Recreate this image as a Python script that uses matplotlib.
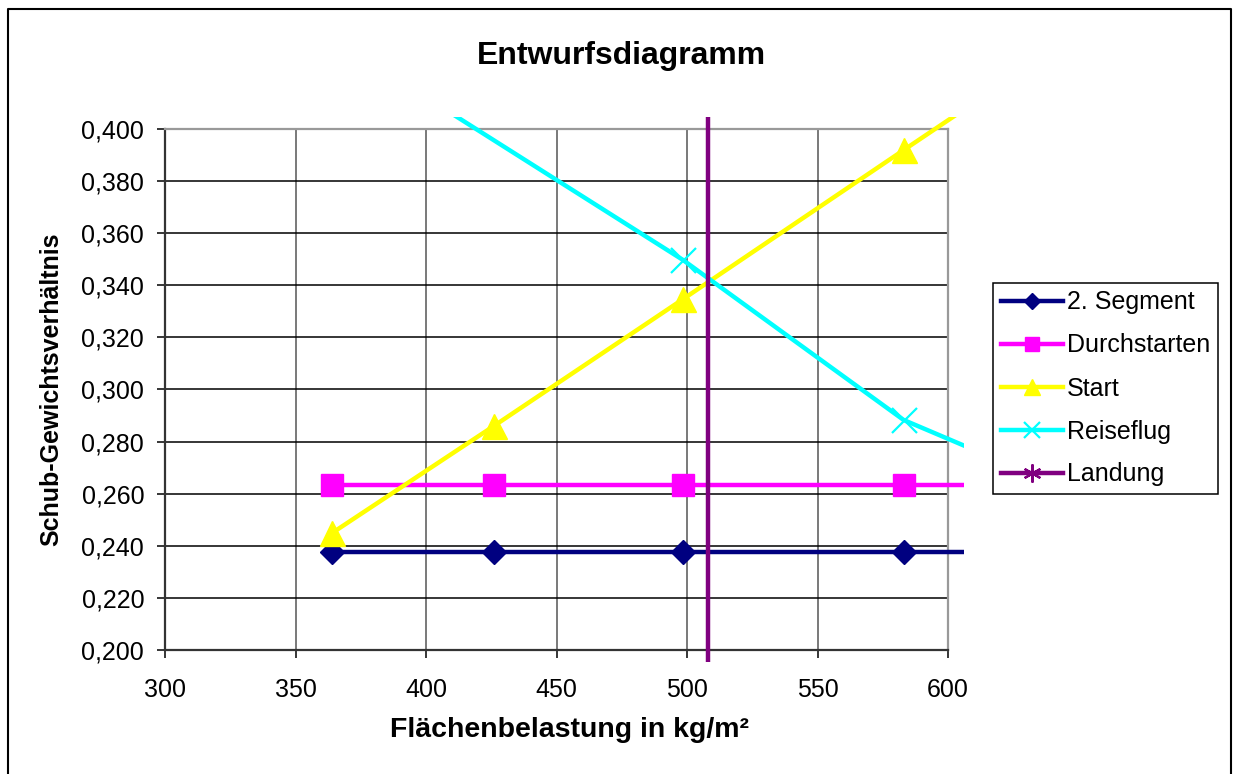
import matplotlib
matplotlib.use("Agg")
import matplotlib.pyplot as plt
from matplotlib.ticker import FuncFormatter, MultipleLocator
from matplotlib.transforms import Bbox, TransformedBbox
from matplotlib.lines import Line2D

plt.rcParams['font.family'] = ['Liberation Sans', 'DejaVu Sans']

# Daten
wl = [364, 426, 498.5, 583, 650]                   # Flächenbelastung kg/m²
segment2 = [0.2378, 0.2378, 0.2378, 0.2378, 0.2378]
durchstarten = [0.2633, 0.2633, 0.2633, 0.2633, 0.2633]
start = [0.2449, 0.2860, 0.3347, 0.3919, 0.4370]
reise_x = [364, 498.5, 583, 650]
reiseflug = [0.4350, 0.3497, 0.2883, 0.2598]
landung_x = [508, 508]
landung_y = [0.10, 0.50]

# name, x, y, farbe, marker, markergröße, markerkantenbreite, legenden-markergröße
series = [
    ("2. Segment", wl, segment2, "#000080", "D", 12, 1, 8),
    ("Durchstarten", wl, durchstarten, "#FF00FF", "s", 16, 1, 10),
    ("Start", wl, start, "#FFFF00", "^", 18, 1, 11),
    ("Reiseflug", reise_x, reiseflug, "#00FFFF", "x", 18, 1.6, 11),
    ("Landung", landung_x, landung_y, "#800080", (6, 2, 0), 14, 1.6, 13),
]

fig = plt.figure(figsize=(12.36, 7.74), dpi=100)
ax = fig.add_axes([165 / 1236, 1 - 650 / 774, (948 - 165) / 1236, (650 - 129) / 774])

ax.set_xlim(300, 600)
ax.set_ylim(0.2, 0.4)

# Excel schneidet etwas außerhalb der Zeichenfläche ab
clip = TransformedBbox(Bbox([[290, 0.1955], [606, 0.4045]]), ax.transData)

handles = []
for name, xs, ys, col, mk, ms, mew, lms in series:
    ln, = ax.plot(xs, ys, color=col, lw=3.2, marker=mk, ms=ms, mew=mew,
                  mec=col, mfc=col, zorder=3)
    ln.set_clip_box(clip)
    handles.append(Line2D([], [], color=col, lw=3.2, marker=mk, ms=lms,
                          mew=mew, mec=col, mfc=col))

# Gitter
ax.xaxis.set_major_locator(MultipleLocator(50))
ax.yaxis.set_major_locator(MultipleLocator(0.02))
ax.grid(True, axis='y', color='black', lw=1.1)
ax.grid(True, axis='x', color='#555555', lw=1.1)
ax.set_axisbelow(True)

ax.yaxis.set_major_formatter(FuncFormatter(lambda v, p: f"{v:.3f}".replace('.', ',')))
ax.tick_params(axis='both', direction='out', length=6, width=1.1, labelsize=18,
               color='black')
ax.tick_params(axis='y', pad=9)
ax.tick_params(axis='x', pad=14)

for s in ['top', 'right']:
    ax.spines[s].set_color('#999999')
    ax.spines[s].set_linewidth(1.6)
for s in ['left', 'bottom']:
    ax.spines[s].set_color('#333333')
    ax.spines[s].set_linewidth(1.6)

ax.set_xlabel("Flächenbelastung in kg/m²", fontsize=20.5, fontweight='bold', va='center')
ax.xaxis.set_label_coords(0.517, -0.154)
ax.set_ylabel("Schub-Gewichtsverhältnis", fontsize=18, fontweight='bold', va='center')
ax.yaxis.set_label_coords(-0.145, 0.5)
fig.text(0.503, 1 - 56 / 774, "Entwurfsdiagramm", fontsize=23, fontweight='bold',
         ha='center', va='center')

leg = fig.legend(handles, [s[0] for s in series], loc='upper left',
                 bbox_to_anchor=(993 / 1236, 1 - 283 / 774), fontsize=18,
                 frameon=True, fancybox=False, framealpha=1, edgecolor='black',
                 handlelength=2.5, handletextpad=0.15, labelspacing=0.76,
                 borderpad=0.3, borderaxespad=0)
leg.get_frame().set_linewidth(1.1)

# Rahmen um das Diagramm
fig.add_artist(Line2D([8 / 1236, 8 / 1236, 1231 / 1236, 1231 / 1236],
                      [0, 1 - 9 / 774, 1 - 9 / 774, 0],
                      transform=fig.transFigure, color='black', lw=1.5))

fig.savefig("out.png", dpi=100)
